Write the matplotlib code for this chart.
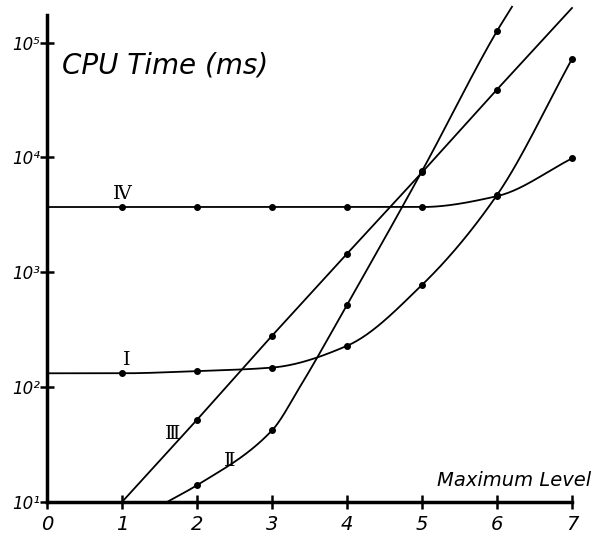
import numpy as np
import matplotlib
matplotlib.use("Agg")
import matplotlib.pyplot as plt

# values (CPU time in ms vs maximum level)
level_I = [0, 1, 2, 3, 4, 5, 6, 7]
time_I = [132, 132, 138, 148, 229, 776, 4700, 72000]
dots_I = [1, 2, 3, 4, 5, 6, 7]

level_II = [1.6, 2, 3, 3.37, 4, 5, 6, 6.2]
time_II = [10, 14, 42, 100, 520, 7600, 126000, 205000]
dots_II = [2, 3, 4, 5, 6]

level_III = [1, 2, 3, 4, 5, 6, 7]
time_III = [10, 52, 280, 1450, 7400, 39000, 200000]
dots_III = [2, 3, 4, 5, 6]

level_IV = [0, 1, 2, 3, 4, 5, 6, 7]
time_IV = [3700, 3700, 3700, 3700, 3700, 3700, 4600, 9800]
dots_IV = [1, 2, 3, 4, 5, 6, 7]

x_ticks = [0, 1, 2, 3, 4, 5, 6, 7]
y_ticks = [1e1, 1e2, 1e3, 1e4, 1e5]
y_tick_labels = ["10¹", "10²", "10³", "10⁴", "10⁵"]


def pchip(x, y, xs):
    # monotone cubic through the points, used only to draw the smooth hand curves
    x = np.asarray(x, float)
    y = np.asarray(y, float)
    h = np.diff(x)
    d = np.diff(y) / h
    m = np.zeros_like(y)
    m[0], m[-1] = d[0], d[-1]
    for k in range(1, len(x) - 1):
        if d[k - 1] * d[k] > 0:
            w1 = 2 * h[k] + h[k - 1]
            w2 = h[k] + 2 * h[k - 1]
            m[k] = (w1 + w2) / (w1 / d[k - 1] + w2 / d[k])
    out = np.empty_like(xs)
    for i, xv in enumerate(xs):
        k = min(np.searchsorted(x, xv, side="right") - 1, len(x) - 2)
        k = max(k, 0)
        t = (xv - x[k]) / h[k]
        h00 = 2 * t**3 - 3 * t**2 + 1
        h10 = t**3 - 2 * t**2 + t
        h01 = -2 * t**3 + 3 * t**2
        h11 = t**3 - t**2
        out[i] = h00 * y[k] + h10 * h[k] * m[k] + h01 * y[k + 1] + h11 * h[k] * m[k + 1]
    return out


fig = plt.figure(figsize=(6.04, 5.37), dpi=100)
ax = fig.add_axes([47 / 604, 35 / 537, 525 / 604, 487 / 537])
ax.set_yscale("log")
ax.set_xlim(0, 7)
ax.set_ylim(1e1, 10 ** 5.24)

curves = [
    (level_I, time_I, dots_I, True),
    (level_II, time_II, dots_II, True),
    (level_III, time_III, dots_III, False),
    (level_IV, time_IV, dots_IV, True),
]
for lv, tm, dots, smooth in curves:
    if smooth:
        xs = np.linspace(lv[0], lv[-1], 300)
        ys = 10 ** pchip(lv, np.log10(tm), xs)
    else:
        xs, ys = lv, tm
    ax.plot(xs, ys, color="black", lw=1.3, clip_on=False, zorder=3)
    dy = [tm[lv.index(d)] for d in dots]
    ax.plot(dots, dy, "o", color="black", ms=4, clip_on=False, zorder=4)

for s in ["top", "right"]:
    ax.spines[s].set_visible(False)
for s in ["left", "bottom"]:
    ax.spines[s].set_linewidth(2.5)

ax.set_xticks(x_ticks)
ax.set_xticklabels([str(v) for v in x_ticks], fontstyle="italic", fontsize=14)
ax.set_yticks(y_ticks)
ax.set_yticklabels(y_tick_labels, fontstyle="italic", fontsize=12)
ax.yaxis.set_minor_locator(matplotlib.ticker.NullLocator())
ax.tick_params(axis="both", which="major", direction="inout", length=10, width=1.8)
ax.tick_params(axis="x", pad=4)
ax.tick_params(axis="y", pad=0)

ax.text(0.2, 10 ** 4.8, "CPU Time (ms)", fontsize=20, fontstyle="italic",
        ha="left", va="center")
ax.text(5.2, 10 ** 1.19, "Maximum Level", fontsize=14, fontstyle="italic",
        ha="left", va="center")

roman = {"Ⅳ": (1.0, 10 ** 3.68), "Ⅰ": (1.07, 10 ** 2.24),
         "Ⅲ": (1.68, 10 ** 1.59), "Ⅱ": (2.43, 10 ** 1.36)}
for txt, (x, y) in roman.items():
    ax.text(x, y, txt, fontsize=14, family="DejaVu Serif", ha="center", va="center")

fig.savefig("out.png", dpi=100)
